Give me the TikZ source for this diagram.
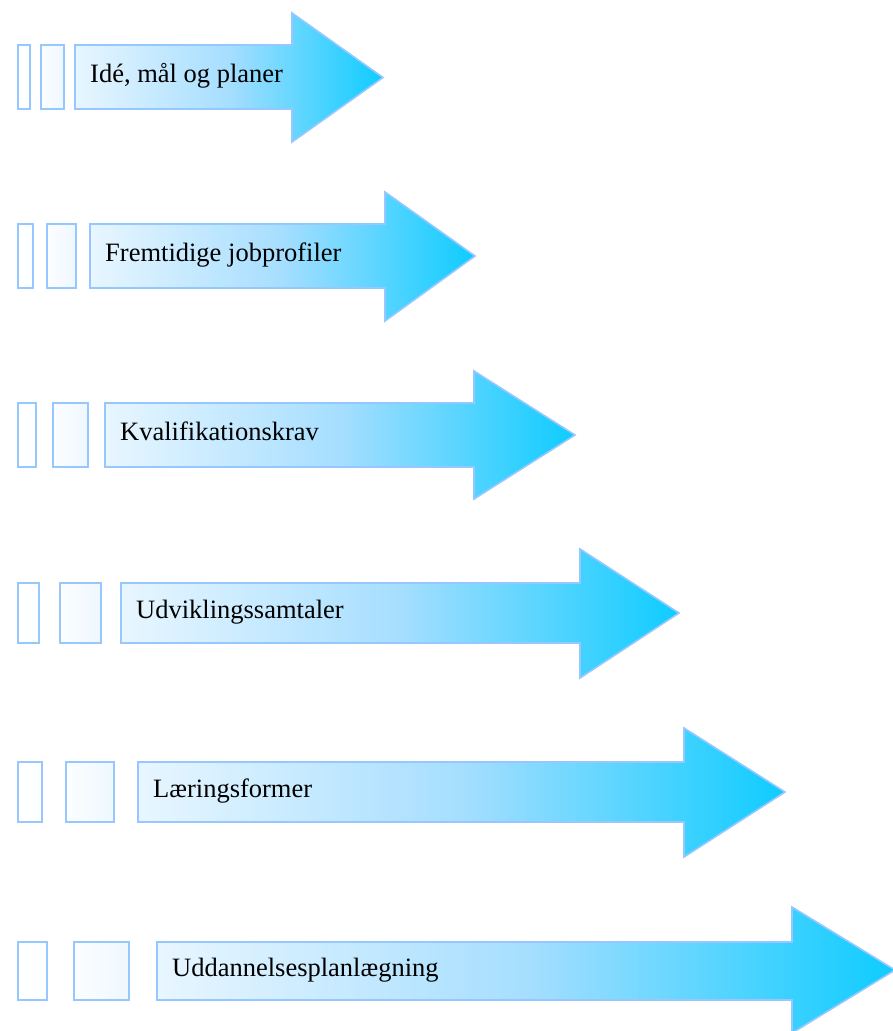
\documentclass[tikz,border=0pt]{standalone}
\usepackage{fontspec}
\setmainfont{Liberation Serif}
\usepackage{tikz}
\usetikzlibrary{calc}

\definecolor{edgeblue}{RGB}{150,200,255}
\definecolor{fadeleft}{RGB}{232,246,255}
\definecolor{fademid}{RGB}{166,222,255}
\definecolor{faderight}{RGB}{14,204,255}
\definecolor{barlight}{RGB}{252,254,255}
\definecolor{barmid}{RGB}{238,247,255}

\tikzset{
  thinbar/.style={draw=edgeblue, line width=1.6pt, left color=white, right color=barlight},
  widebar/.style={draw=edgeblue, line width=1.6pt, left color=barlight, right color=barmid},
  bigarrow/.style={draw=edgeblue, line width=1.6pt, left color=fadeleft, right color=faderight, middle color=fademid},
  steplabel/.style={anchor=base west, inner sep=0pt, font=\fontsize{26.5}{30}\selectfont}
}

\begin{document}
\begin{tikzpicture}[x=1pt,y=-1pt]
            \useasboundingbox (0,0) rectangle (893,1031);

            % Drawing arrow 1 with its two bars
            \draw [thinbar] (18,45) rectangle (30,109);%
            \draw [widebar] (41,45) rectangle (64,109);%
            \draw [bigarrow] (75,45) -- (292,45) -- (292,13) -- (383,77.5) -- (292,142) -- (292,109) -- (75,109) -- cycle;%
            \node [steplabel] (lbl1) at (90,82) {Idé, mål og planer};%

            % Drawing arrow 2 with its two bars
            \draw [thinbar] (18,224) rectangle (33,288);%
            \draw [widebar] (47,224) rectangle (76,288);%
            \draw [bigarrow] (90,224) -- (385,224) -- (385,192) -- (475,256) -- (385,321) -- (385,288) -- (90,288) -- cycle;%
            \node [steplabel] (lbl2) at (105,261) {Fremtidige jobprofiler};%

            % Drawing arrow 3 with its two bars
            \draw [thinbar] (18,403) rectangle (36,467);%
            \draw [widebar] (53,403) rectangle (88,467);%
            \draw [bigarrow] (105,403) -- (474,403) -- (474,371) -- (575,435) -- (474,499) -- (474,467) -- (105,467) -- cycle;%
            \node [steplabel] (lbl3) at (120,440) {Kvalifikationskrav};%

            % Drawing arrow 4 with its two bars
            \draw [thinbar] (18,583) rectangle (39,643);%
            \draw [widebar] (60,583) rectangle (101,643);%
            \draw [bigarrow] (121,583) -- (580,583) -- (580,549) -- (679,613) -- (580,678) -- (580,643) -- (121,643) -- cycle;%
            \node [steplabel] (lbl4) at (136,618) {Udviklingssamtaler};%

            % Drawing arrow 5 with its two bars
            \draw [thinbar] (18,762) rectangle (42,822);%
            \draw [widebar] (66,762) rectangle (114,822);%
            \draw [bigarrow] (138,762) -- (684,762) -- (684,728) -- (785,792) -- (684,857) -- (684,822) -- (138,822) -- cycle;%
            \node [steplabel] (lbl5) at (153,797) {Læringsformer};%

            % Drawing arrow 6 with its two bars
            \draw [thinbar] (18,942) rectangle (47,1000);%
            \draw [widebar] (74,942) rectangle (129,1000);%
            \draw [bigarrow] (157,942) -- (792,942) -- (792,907) -- (895,970) -- (792,1033) -- (792,1000) -- (157,1000) -- cycle;%
            \node [steplabel] (lbl6) at (172,976) {Uddannelsesplanlægning};%
        \end{tikzpicture}
\end{document}
